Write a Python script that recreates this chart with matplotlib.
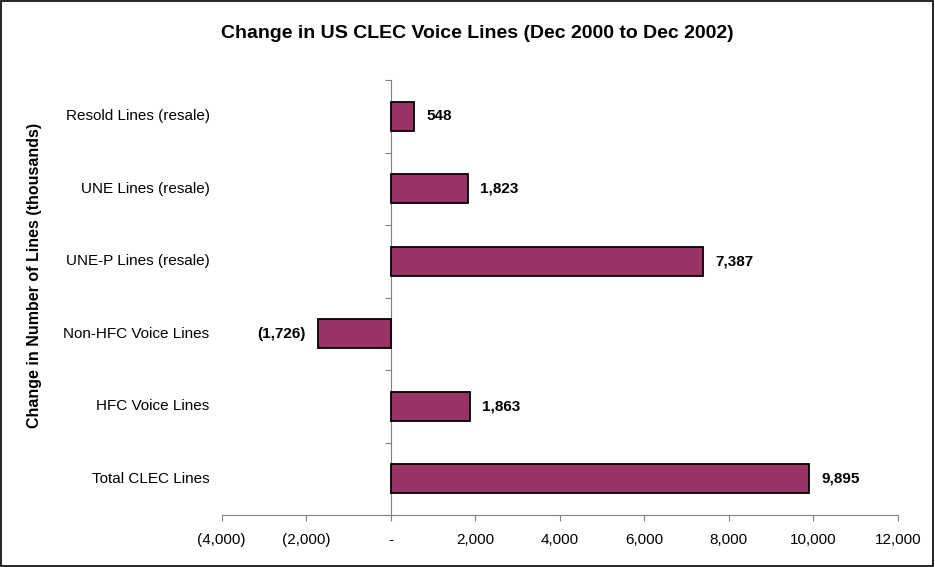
import matplotlib.pyplot as plt
from matplotlib.patches import Rectangle

plt.rcParams['font.family'] = ['Liberation Sans', 'DejaVu Sans']

categories = ["Total CLEC Lines", "HFC Voice Lines", "Non-HFC Voice Lines",
              "UNE-P Lines (resale)", "UNE Lines (resale)", "Resold Lines (resale)"]
values = [9895, 1863, -1726, 7387, 1823, 548]
xticks = [-4000, -2000, 0, 2000, 4000, 6000, 8000, 10000, 12000]


def fmt(v):
    if v == 0:
        return "-"
    if v < 0:
        return "(" + format(-v, ",") + ")"
    return format(v, ",")


fig = plt.figure(figsize=(9.35, 5.67), dpi=100)
ax = fig.add_axes([221.7/935, 1-515/567, 676.3/935, 435/567])

pos = list(range(len(categories)))
ax.barh(pos, values, height=0.4, color="#993366", edgecolor="black", linewidth=1.3, zorder=3)

ax.set_xlim(-4000, 12000)
ax.set_ylim(-0.5, len(categories)-0.5)

for sp in ["top", "right"]:
    ax.spines[sp].set_visible(False)
ax.spines["left"].set_position(("data", 0))
ax.spines["left"].set_color("#808080")
ax.spines["bottom"].set_color("#808080")

ax.set_xticks(xticks)
ax.set_xticklabels([fmt(v) for v in xticks], fontsize=11)
ax.tick_params(axis="x", direction="out", length=4, color="#808080", pad=9)

ax.set_yticks([p-0.5 for p in pos] + [len(categories)-0.5])
ax.set_yticklabels([])
ax.tick_params(axis="y", direction="out", length=4, color="#808080")

for p, c in zip(pos, categories):
    ax.text(-0.018, p, c, transform=ax.get_yaxis_transform(), ha="right", va="center", fontsize=11)

for p, v in zip(pos, values):
    if v >= 0:
        ax.text(v + 290, p, fmt(v), ha="left", va="center", fontsize=11, fontweight="bold")
    else:
        ax.text(v - 300, p, fmt(v), ha="right", va="center", fontsize=11, fontweight="bold")

fig.text(35/935, 1-275/567, "Change in Number of Lines (thousands)", rotation=90,
         ha="center", va="center", fontsize=11.5, fontweight="bold")
fig.text(477/935, 1-34/567, "Change in US CLEC Voice Lines (Dec 2000 to Dec 2002)",
         ha="center", va="center", fontsize=14, fontweight="bold")

fig.patches.append(Rectangle((0.001, 0.001), 0.997, 0.997, transform=fig.transFigure,
                             fill=False, edgecolor="black", linewidth=1.2))

fig.savefig("out.png", dpi=100)
